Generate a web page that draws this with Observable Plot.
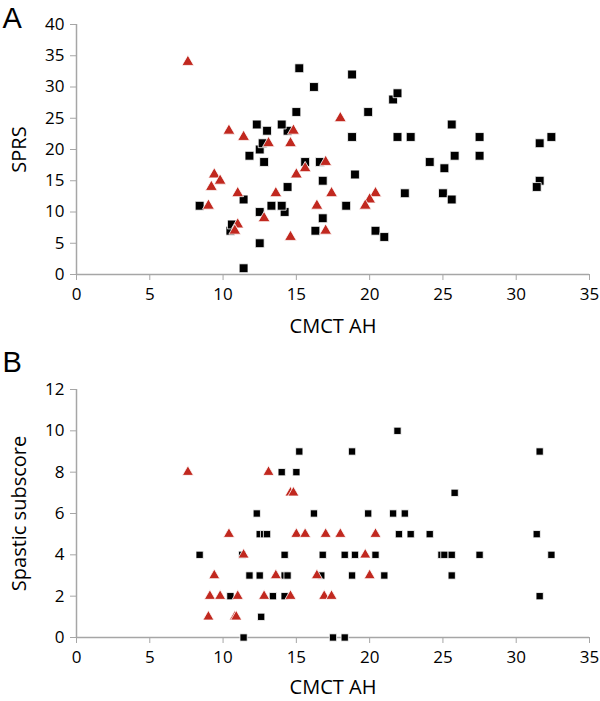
<!DOCTYPE html>
<html>
<head>
<meta charset="utf-8">
<script src="https://cdn.jsdelivr.net/npm/d3@7"></script>
<script src="https://cdn.jsdelivr.net/npm/@observablehq/plot@0.6"></script>
<style>
  html, body { margin: 0; padding: 0; background: #fff; }
  #chart { width: 600px; }
  svg { display: block; }
</style>
</head>
<body>
<div id="chart"></div>
<script>
// Panel A: SPRS vs CMCT AH
const sqA_x = [11.4,12.5,10.5,10.6,16.3,20.4,21.0,16.8,12.5,14.2,13.3,14.0,18.4,8.4,11.4,14.4,16.8,19.0,12.8,15.6,16.6,11.8,12.5,12.7,14.4,13.0,14.0,12.3,15.0,16.2,15.2,18.8,21.6,21.9,19.9,18.8,21.9,22.8,25.6,27.5,32.4,31.6,24.1,25.8,27.5,25.1,22.4,25.0,25.6,31.6,31.4];
const sqA_y = [1,5,7,8,7,7,6,9,10,10,11,11,11,11,12,14,15,16,18,18,18,19,20,21,23,23,24,24,26,30,33,32,28,29,26,22,22,22,24,22,22,21,18,19,19,17,13,13,12,15,14];
const trA_x = [7.6,10.4,11.4,14.8,13.1,14.6,18.0,17.0,15.6,15.0,9.4,9.8,9.2,11.0,13.6,17.4,20.4,20.0,19.7,16.4,9.0,12.8,11.0,10.8,17.0,14.6];
const trA_y = [34,23,22,23,21,21,25,18,17,16,16,15,14,13,13,13,13,12,11,11,11,9,8,7,7,6];

// Panel B: Spastic subscore vs CMCT AH
const sqB_x = [21.9,15.2,18.8,31.6,14.0,15.0,25.8,12.3,16.2,19.9,21.6,22.4,12.5,12.8,13.0,22.0,22.8,24.1,31.4,8.4,11.3,14.2,16.8,18.3,19.0,20.4,24.9,25.1,25.6,27.5,32.4,11.8,12.5,14.2,14.4,16.7,18.8,21.0,25.6,10.5,13.4,14.2,31.6,12.6,11.4,17.5,18.3];
const sqB_y = [10,9,9,9,8,8,7,6,6,6,6,6,5,5,5,5,5,5,5,4,4,4,4,4,4,4,4,4,4,4,4,3,3,3,3,3,3,3,3,2,2,2,2,1,0,0,0];
const trB_x = [7.6,13.1,14.6,14.8,10.4,15.0,15.6,17.0,18.0,20.4,11.4,19.7,9.4,13.6,16.4,20.0,9.1,9.8,11.0,12.8,14.6,16.9,17.4,9.0,10.8,10.9];
const trB_y = [8,8,7,7,5,5,5,5,5,5,4,4,3,3,3,3,2,2,2,2,2,2,2,1,1,1];

const xTicks = [0,5,10,15,20,25,30,35];
const yTicksA = [0,5,10,15,20,25,30,35,40];
const yTicksB = [0,2,4,6,8,10,12];

const zip = (xs, ys) => xs.map((x, i) => ({x, y: ys[i]}));

const RED = "#c1281f";
const AXIS = "#a6a6a6";
const FONT = "'Open Sans', 'Liberation Sans', sans-serif";

function panel({letter, ylabel, squares, triangles, yDomain, yTicks, height, marginTop, marginBottom, rSq, rTr, letterDy, xlabelDy}) {
  return Plot.plot({
    width: 600,
    height,
    marginLeft: 76,
    marginRight: 11,
    marginTop,
    marginBottom,
    style: {fontFamily: FONT, fontSize: "17px", color: "#000", background: "#fff", overflow: "visible"},
    x: {domain: [0, 35], ticks: xTicks, label: null},
    y: {domain: yDomain, ticks: yTicks, label: null},
    marks: [
      Plot.axisX({ticks: xTicks, tickSize: 6, tickPadding: 7, stroke: AXIS, fill: "#000", label: null}),
      Plot.axisY({ticks: yTicks, tickSize: 6, tickPadding: 6, stroke: AXIS, fill: "#000", label: null}),
      Plot.ruleX([0], {stroke: AXIS, strokeWidth: 1.5}),
      Plot.ruleY([yDomain[0]], {stroke: AXIS, strokeWidth: 1.5}),
      Plot.dot(squares, {x: "x", y: "y", symbol: "square", r: rSq, fill: "#000", stroke: "#fff", strokeWidth: 0.8}),
      Plot.dot(triangles, {x: "x", y: "y", symbol: "triangle", r: rTr, fill: RED, stroke: "#fff", strokeWidth: 0.8}),
      Plot.text(["CMCT AH"], {frameAnchor: "bottom", dy: xlabelDy, fontSize: 20, textAnchor: "middle", lineAnchor: "middle", fill: "#000"}),
      Plot.text([ylabel], {frameAnchor: "left", dx: -57, rotate: -90, fontSize: 20, textAnchor: "middle", lineAnchor: "middle", fill: "#000"}),
      Plot.text([letter], {frameAnchor: "top-left", dx: -74, dy: letterDy, fontSize: 29, fontFamily: "'Liberation Sans', Arial, sans-serif", textAnchor: "start", lineAnchor: "bottom", fill: "#000"})
    ]
  });
}

const chart = document.getElementById("chart");
chart.append(panel({
  letter: "A", ylabel: "SPRS",
  squares: zip(sqA_x, sqA_y), triangles: zip(trA_x, trA_y),
  yDomain: [0, 40], yTicks: yTicksA,
  height: 350, marginTop: 24, marginBottom: 76, rSq: 5.0, rTr: 4.4, letterDy: 3, xlabelDy: 52
}));
chart.append(panel({
  letter: "B", ylabel: "Spastic subscore",
  squares: zip(sqB_x, sqB_y), triangles: zip(trB_x, trB_y),
  yDomain: [0, 12], yTicks: yTicksB,
  height: 351, marginTop: 39, marginBottom: 64, rSq: 4.1, rTr: 4.1, letterDy: -18, xlabelDy: 50
}));
</script>
</body>
</html>
